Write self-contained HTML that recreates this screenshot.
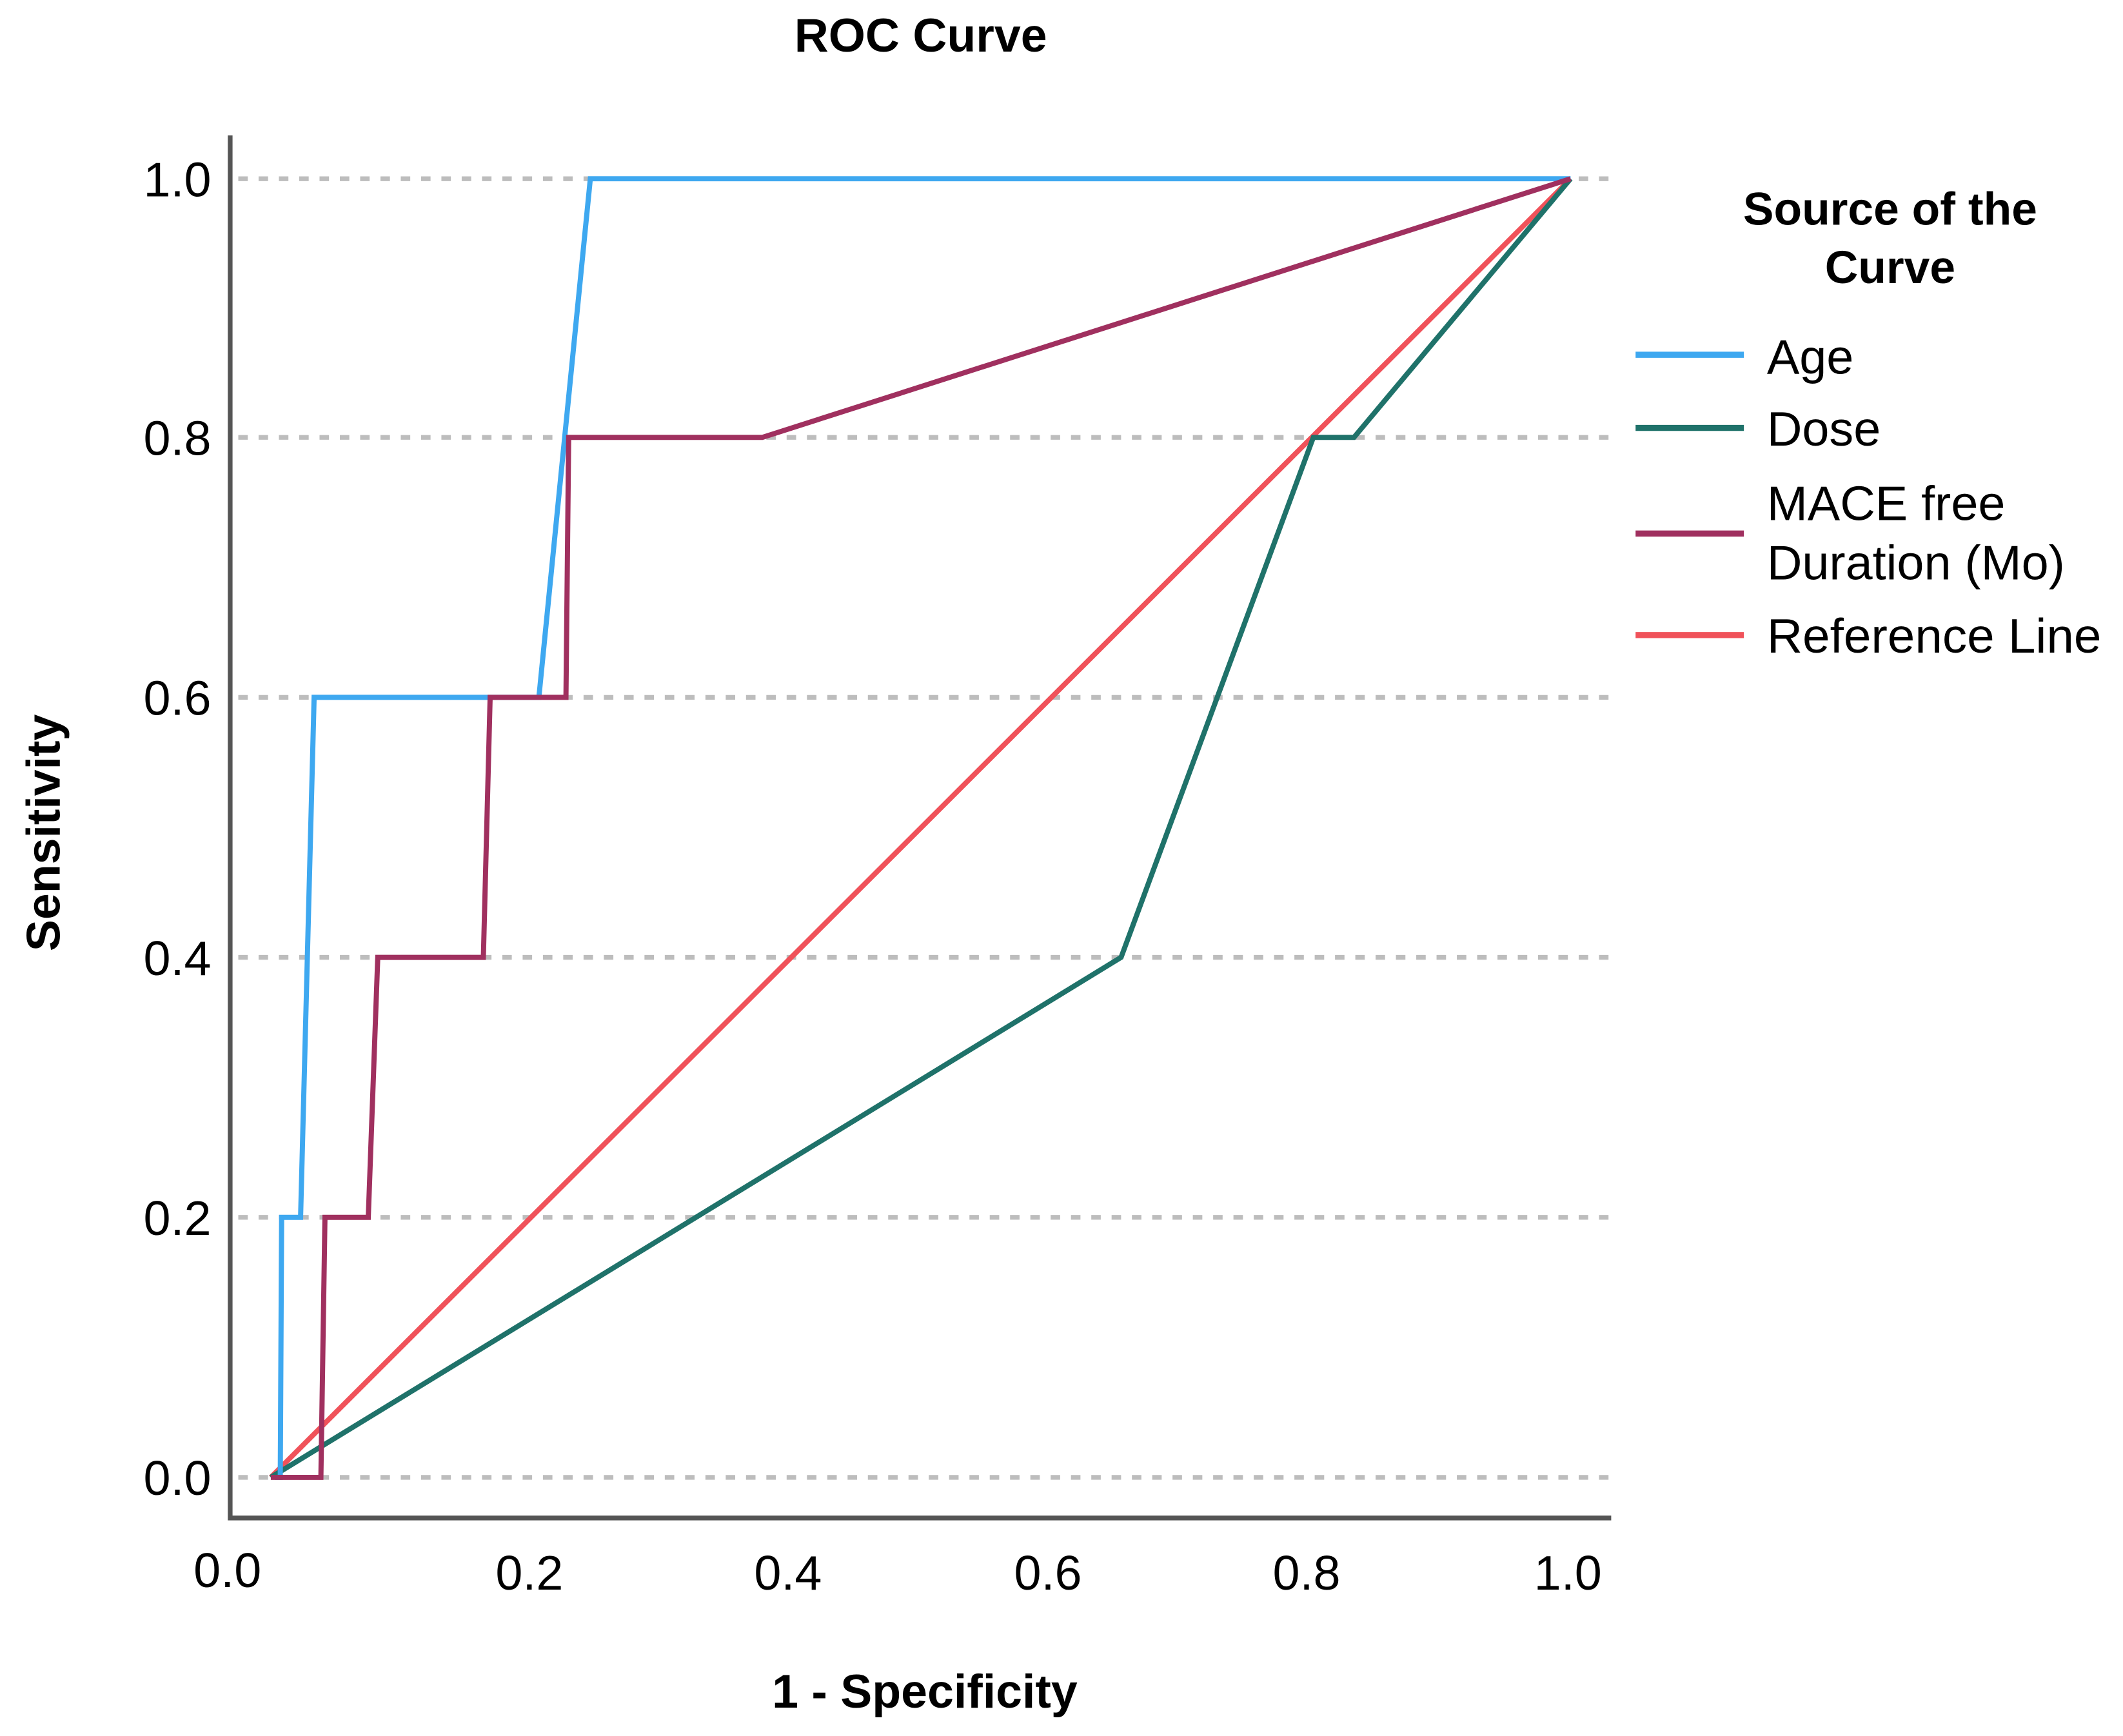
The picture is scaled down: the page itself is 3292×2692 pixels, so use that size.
<!DOCTYPE html>
<html><head><meta charset="utf-8"><style>html,body{margin:0;padding:0;background:#fff}svg{display:block}</style></head>
<body>
<svg width="3292" height="2692" viewBox="0 0 1568 1282" preserveAspectRatio="none" xmlns="http://www.w3.org/2000/svg" font-family="Liberation Sans, sans-serif">
<rect width="1568" height="1282" fill="#fff"/>
<g stroke="#bdbdbd" stroke-width="3.5" stroke-dasharray="7,8">
<line x1="176" y1="132" x2="1190" y2="132"/>
<line x1="176" y1="323" x2="1190" y2="323"/>
<line x1="176" y1="515" x2="1190" y2="515"/>
<line x1="176" y1="707" x2="1190" y2="707"/>
<line x1="176" y1="899" x2="1190" y2="899"/>
<line x1="176" y1="1091" x2="1190" y2="1091"/>
</g>
<g stroke="#555" stroke-width="3.5" fill="none">
<polyline points="170,100 170,1121 1190,1121"/>
</g>
<g fill="none" stroke-width="3.8" stroke-linejoin="miter">
<polyline stroke="#f0525a" points="200,1091 1160,132"/>
<polyline stroke="#1f726a" points="200,1091 828,707 970,323 1000,323 1160,132"/>
<polyline stroke="#3ea8f0" points="203,1091 207,1091 208,899 222,899 232,515 398,515 436,132 1160,132"/>
<polyline stroke="#a0305f" points="200,1091 237,1091 240,899 272,899 279,707 357,707 362,515 418,515 420,323 563,323 1160,132"/>
</g>
<g font-size="36" fill="#000" text-anchor="end">
<text x="156" y="145">1.0</text>
<text x="156" y="336">0.8</text>
<text x="156" y="528">0.6</text>
<text x="156" y="720">0.4</text>
<text x="156" y="912">0.2</text>
<text x="156" y="1104">0.0</text>
</g>
<g font-size="36" fill="#000" text-anchor="middle">
<text x="168" y="1172">0.0</text>
<text x="391" y="1174">0.2</text>
<text x="582" y="1174">0.4</text>
<text x="774" y="1174">0.6</text>
<text x="965" y="1174">0.8</text>
<text x="1158" y="1174">1.0</text>
</g>
<g font-weight="bold" font-size="35" fill="#000" text-anchor="middle">
<text x="680" y="38">ROC Curve</text>
<text x="683" y="1261">1 - Specificity</text>
<text transform="translate(44,615) rotate(-90)">Sensitivity</text>
<text x="1396" y="166" font-size="34">Source of the</text>
<text x="1396" y="209" font-size="34">Curve</text>
</g>
<g stroke-width="4.5">
<line x1="1208" y1="262" x2="1288" y2="262" stroke="#3ea8f0"/>
<line x1="1208" y1="316" x2="1288" y2="316" stroke="#1f726a"/>
<line x1="1208" y1="394" x2="1288" y2="394" stroke="#a0305f"/>
<line x1="1208" y1="469" x2="1288" y2="469" stroke="#f0525a"/>
</g>
<g font-size="36" fill="#000">
<text x="1305" y="276">Age</text>
<text x="1305" y="329">Dose</text>
<text x="1305" y="384">MACE free</text>
<text x="1305" y="428">Duration (Mo)</text>
<text x="1305" y="482" textLength="247" lengthAdjust="spacingAndGlyphs">Reference Line</text>
</g>
</svg>
</body></html>
